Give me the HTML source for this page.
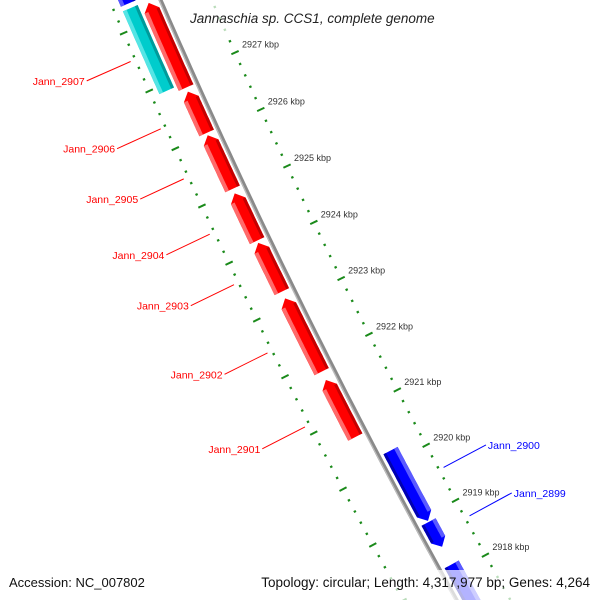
<!DOCTYPE html>
<html><head><meta charset="utf-8"><style>
html,body{margin:0;padding:0;background:#fff;width:600px;height:600px;overflow:hidden}
svg{display:block;overflow:hidden;font-family:"Liberation Sans","DejaVu Sans",sans-serif}
</style></head><body>
<svg id="map" width="600" height="600" viewBox="0 0 600 600" xmlns="http://www.w3.org/2000/svg">
<defs><clipPath id="clip"><rect x="0" y="0" width="600" height="600"/></clipPath></defs>
<g clip-path="url(#clip)">
<rect width="600" height="600" fill="#fff"/>
<g id="rings"></g>
<g id="backbone"></g>
<g id="genes"></g>
<g id="labels"></g>
<g id="ticklabels"></g>
<rect x="178" y="2" width="262" height="31" fill="#fff" fill-opacity="0.7"/>
<text x="190" y="23" font-size="13.5" font-style="italic" fill="#222">Jannaschia sp. CCS1, complete genome</text>
<rect x="0" y="570" width="152" height="30" fill="#fff" fill-opacity="0.7"/>
<text x="9" y="587" font-size="13" fill="#111">Accession: NC_007802</text>
<rect x="252" y="570" width="348" height="30" fill="#fff" fill-opacity="0.7"/>
<text x="590" y="587" font-size="13.5" fill="#111" text-anchor="end">Topology: circular; Length: 4,317,977 bp; Genes: 4,264</text>
</g>
</svg>
<script>
// ---- data ----
const geneNames  = ["Jann_2907","Jann_2906","Jann_2905","Jann_2904","Jann_2903","Jann_2902","Jann_2901","Jann_2900","Jann_2899","Jann_2898"];
const geneStarts = [2926.81,2926.02,2925.04,2924.13,2923.23,2921.81,2920.64,2918.92,2918.45,2916.8];
const geneEnds   = [2928.28,2926.74,2925.98,2924.96,2924.09,2923.11,2921.66,2920.19,2918.90,2918.13];
const geneStrand = [-1,-1,-1,-1,-1,-1,-1,1,1,1];
const geneLabeled= [1,1,1,1,1,1,1,1,1,0];
const otherStarts = [2926.89,2928.40];
const otherEnds   = [2928.32,2929.0];
const otherColors = ["cyan","blue"];
const tickLabels = [2927,2926,2925,2924,2923,2922,2921,2920,2919,2918];
const tickMin = 2916.4, tickMax = 2929.2;

// ---- geometry ----
const CX=6393, CY=-2702, R0=6793, A0=155.90, DEG=0.53, K0=2927;
function P(kbp, off){
  const a=(A0-DEG*(K0-kbp))*Math.PI/180, R=R0+off;
  return [CX+R*Math.cos(a), CY+R*Math.sin(a)];
}
const NS="http://www.w3.org/2000/svg";
function mk(tag, attrs, parent){
  const e=document.createElementNS(NS,tag);
  for(const k in attrs) e.setAttribute(k, attrs[k]);
  parent.appendChild(e); return e;
}
function arcPts(k1,k2,off,n){
  const pts=[]; for(let i=0;i<=n;i++){pts.push(P(k1+(k2-k1)*i/n,off));} return pts;
}
function fmt(pts){return pts.map(p=>p[0].toFixed(1)+","+p[1].toFixed(1)).join(" ");}
function band(k1,k2,o1,o2){
  return fmt(arcPts(k1,k2,o1,20).concat(arcPts(k2,k1,o2,20)));
}
function arrow(k1,k2,o1,o2,dir){
  const head=0.13, mid=(o1+o2)/2;
  let pts;
  if(dir===-1){
    const kb=k2-head;
    pts=arcPts(k1,kb,o1,20).concat([P(k2,mid)]).concat(arcPts(kb,k1,o2,20));
  } else {
    const kb=k1+head;
    pts=[P(k1,mid)].concat(arcPts(kb,k2,o1,20)).concat(arcPts(k2,kb,o2,20));
  }
  return fmt(pts);
}

// rings & ticks
const rings=document.getElementById('rings');
[-47,47].forEach(function(off){
  for(let t=Math.ceil(tickMin*5); t<=Math.floor(tickMax*5); t++){
    const k=t/5, major=(t%5===0);
    const half=major?4:1.2;
    const p1=P(k,off-half), p2=P(k,off+half);
    const ln=mk('line',{x1:p1[0],y1:p1[1],x2:p2[0],y2:p2[1],stroke:'#1a8a1a','stroke-width':major?2:2.2},rings);
    
    
  }
});
// tick labels
const tl=document.getElementById('ticklabels');
tickLabels.forEach(function(k){
  const p=P(k,-47);
  const t=mk('text',{x:(p[0]+7).toFixed(1),y:(p[1]-5).toFixed(1),'font-size':9,fill:'#333'},tl);
  t.textContent=k+" kbp";
  
  
});

// backbone
const bb=document.getElementById('backbone');
const bl=mk('polyline',{points:fmt(arcPts(tickMin,tickMax,0,60)),fill:'none',stroke:'#8a8a8a','stroke-width':4},bb);


const bl2=mk('polyline',{points:fmt(arcPts(tickMin,tickMax,1.3,60)),fill:'none',stroke:'#bdbdbd','stroke-width':1.2},bb);



// other features (cyan slot)
const gg=document.getElementById('genes');
otherStarts.forEach(function(s,i){
  const col=otherColors[i]==='cyan'?['#00cccc','#55e5e5','#009a9a']:['#0000ff','#5a5aff','#0000b0'];
  const g=mk('g',{},gg);
  
  
  mk('polygon',{points:band(s,otherEnds[i],23,39),fill:col[0]},g);
  mk('polygon',{points:band(s,otherEnds[i],35,39),fill:col[1]},g);
  mk('polygon',{points:band(s,otherEnds[i],23,26),fill:col[2]},g);
});
// genes
geneNames.forEach(function(name,i){
  const rev=geneStrand[i]<0;
  const o1=rev?4:-5, o2=rev?20:-21;
  const col=rev?['#ff0000','#ff6a6a','#c40000']:['#0000ff','#5a5aff','#0000b0'];
  const dir=rev?-1:1;
  const g=mk('g',{},gg);
  
  
  mk('polygon',{points:arrow(geneStarts[i],geneEnds[i],o1,o2,dir),fill:col[0]},g);
  const lo=rev?[16,20]:[-21,-17], dk=rev?[4,7]:[-8,-5];
  const ks=geneStarts[i]+(dir===1?0.13:0), ke=geneEnds[i]-(dir===-1?0.13:0);
  mk('polygon',{points:band(ks,ke,lo[0],lo[1]),fill:col[1]},g);
  mk('polygon',{points:band(ks,ke,dk[0],dk[1]),fill:col[2]},g);
});
// labels
const lg=document.getElementById('labels');
geneNames.forEach(function(name,i){
  if(!geneLabeled[i]) return;
  const rev=geneStrand[i]<0;
  const mid=(geneStarts[i]+geneEnds[i])/2;
  const col=rev?'#ff0000':'#0000ff';
  const a=P(mid,rev?52:-52), b=P(mid,rev?100:-100);
  const ln=mk('line',{x1:a[0],y1:a[1],x2:b[0],y2:b[1],stroke:col,'stroke-width':1},lg);
  
  
  const t=mk('text',{x:(rev?b[0]-2:b[0]+2).toFixed(1),y:(b[1]+4).toFixed(1),'font-size':10.5,fill:col,'text-anchor':rev?'end':'start'},lg);
  t.textContent=name;
  
  
});
</script>
</body></html>
